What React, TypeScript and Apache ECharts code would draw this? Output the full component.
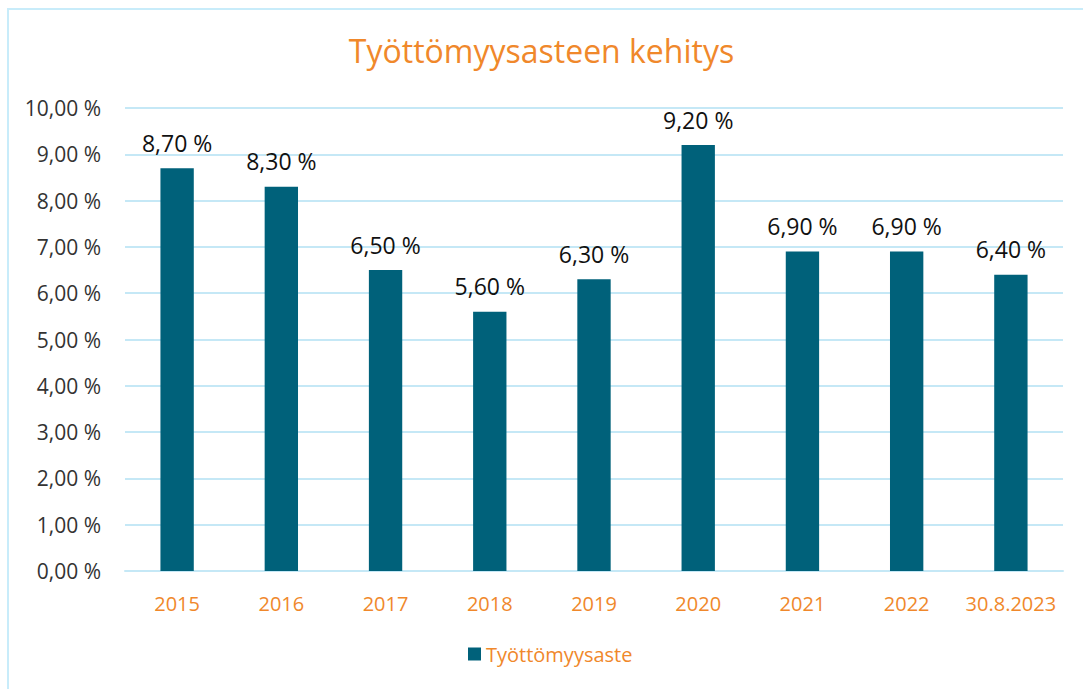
import React, { useEffect, useRef } from "react";
import * as echarts from "echarts";

const categories = ["2015", "2016", "2017", "2018", "2019", "2020", "2021", "2022", "30.8.2023"];
const values = [8.7, 8.3, 6.5, 5.6, 6.3, 9.2, 6.9, 6.9, 6.4];
const seriesName = "Työttömyysaste";
const titleText = "Työttömyysasteen kehitys";

const fmt = (v: number) => v.toFixed(2).replace(".", ",") + " %";

export default function App() {
  const ref = useRef<HTMLDivElement>(null);
  useEffect(() => {
    if (!ref.current) return;
    const chart = echarts.init(ref.current, null, { renderer: "svg" });
    const font = "Open Sans";
    chart.setOption({
      animation: false,
      backgroundColor: "#ffffff",
      textStyle: { fontFamily: font },
      title: {
        text: titleText,
        left: "center",
        top: 29,
        textStyle: { color: "#F0882B", fontSize: 32, fontWeight: "normal", fontFamily: font },
      },
      graphic: [
        {
          type: "rect",
          shape: { x: 8, y: 9, width: 1100, height: 700 },
          style: { fill: "none", stroke: "#c8ecfa", lineWidth: 2 },
          silent: true,
        },
      ],
      legend: {
        bottom: 20,
        left: 463,
        itemWidth: 13,
        itemHeight: 13,
        itemGap: 10,
        icon: "rect",
        textStyle: { color: "#F0882B", fontSize: 20, fontFamily: font },
        data: [seriesName],
      },
      grid: { left: 125, right: 20, top: 108, bottom: 118, containLabel: false },
      xAxis: {
        type: "category",
        data: categories,
        axisLine: { show: true, lineStyle: { color: "#c5e8f6", width: 2 } },
        axisTick: { show: false },
        axisLabel: { color: "#F0882B", fontSize: 20, margin: 22, interval: 0, fontFamily: font },
      },
      yAxis: {
        type: "value",
        min: 0,
        max: 10,
        interval: 1,
        axisLine: { show: false },
        axisTick: { show: false },
        splitLine: { lineStyle: { color: "#c5e8f6", width: 2 } },
        axisLabel: { color: "#333333", fontSize: 21, margin: 24, formatter: (v: number) => fmt(v), fontFamily: font },
      },
      series: [
        {
          name: seriesName,
          type: "bar",
          data: values,
          barWidth: "32%",
          itemStyle: { color: "#00617A" },
          label: {
            show: true,
            position: "top",
            distance: 14,
            color: "#111111",
            fontSize: 23,
            fontFamily: font,
            formatter: (p: any) => fmt(p.value),
          },
        },
      ],
    });
    return () => chart.dispose();
  }, []);
  return (
    <div
      ref={ref}
      style={{ position: "fixed", left: 0, top: 0, width: 1083, height: 689 }}
    />
  );
}
